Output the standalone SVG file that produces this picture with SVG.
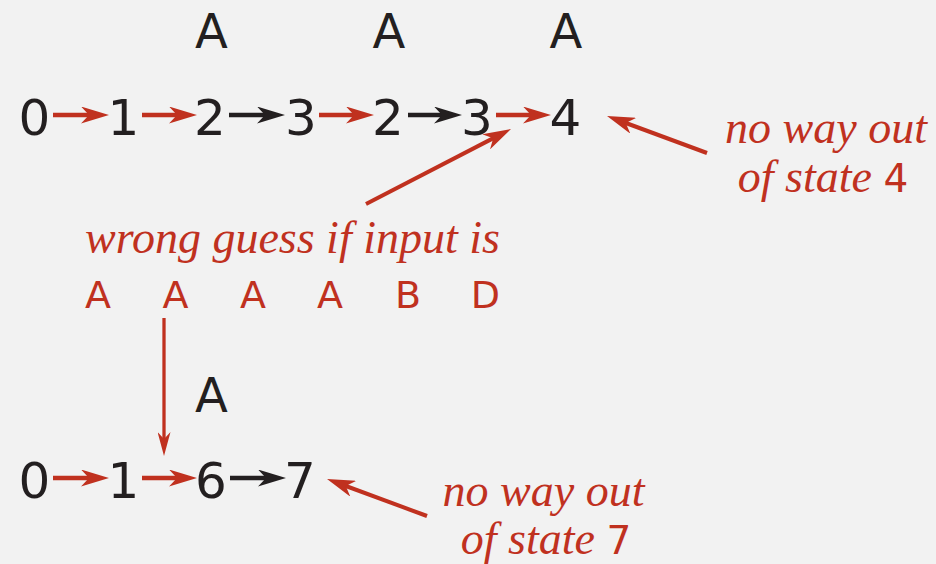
<svg xmlns="http://www.w3.org/2000/svg" width="936" height="564" viewBox="0 0 936 564">
<style>
.bg{fill:#f2f2f2}
.dig{font-family:"DejaVu Sans",sans-serif;font-size:50px;fill:#231f20;text-anchor:middle}
.lab{font-family:"DejaVu Sans",sans-serif;font-size:48px;fill:#231f20;text-anchor:middle}
.inp{font-family:"DejaVu Sans",sans-serif;font-size:38px;fill:#c0311f;text-anchor:middle}
.it{font-family:"Liberation Serif",serif;font-style:italic;font-size:46px;fill:#c0311f}
.num{font-family:"DejaVu Sans",sans-serif;font-style:normal;font-size:39px}
.r{stroke:#c0311f;stroke-width:4.5;fill:none;marker-end:url(#ar)}
.k{stroke:#231f20;stroke-width:4.5;fill:none;marker-end:url(#ak)}
.rd{stroke:#c0311f;stroke-width:4;fill:none;marker-end:url(#ar)}
.rv{stroke:#c0311f;stroke-width:3.3;fill:none;marker-end:url(#as)}
</style>
<defs>
<marker id="ar" markerUnits="userSpaceOnUse" viewBox="0 0 28 17" refX="18" refY="8.5" markerWidth="28" markerHeight="17" orient="auto"><path d="M28,8.5 L0,0 L8,8.5 L0,17 Z" fill="#c0311f"/></marker>
<marker id="ak" markerUnits="userSpaceOnUse" viewBox="0 0 28 17" refX="18" refY="8.5" markerWidth="28" markerHeight="17" orient="auto"><path d="M28,8.5 L0,0 L8,8.5 L0,17 Z" fill="#231f20"/></marker>
<marker id="as" markerUnits="userSpaceOnUse" viewBox="0 0 24 13" refX="14" refY="6.5" markerWidth="24" markerHeight="13" orient="auto"><path d="M24,6.5 L0,0 L7,6.5 L0,13 Z" fill="#c0311f"/></marker>
</defs>
<rect class="bg" x="0" y="0" width="936" height="564"/>
<g id="top-labels">
<text class="lab" x="211.5" y="48">A</text>
<text class="lab" x="389" y="48">A</text>
<text class="lab" x="566" y="48">A</text>
</g>
<g id="top-row">
<text class="dig" x="34.5" y="135">0</text>
<text class="dig" x="123.5" y="135">1</text>
<text class="dig" x="210" y="135">2</text>
<text class="dig" x="301" y="135">3</text>
<text class="dig" x="388" y="135">2</text>
<text class="dig" x="477" y="135">3</text>
<text class="dig" x="565.5" y="135">4</text>
</g>
<g id="note-4">
<text class="it" x="826" y="143" text-anchor="middle">no way out</text>
<text class="it" x="823" y="192" text-anchor="middle">of state <tspan class="num">4</tspan></text>
</g>
<g id="wrong-guess">
<text class="it" x="85" y="253">wrong guess if input is</text>
</g>
<g id="input">
<text class="inp" x="98" y="308">A</text>
<text class="inp" x="175.5" y="308">A</text>
<text class="inp" x="253" y="308">A</text>
<text class="inp" x="330" y="308">A</text>
<text class="inp" x="408" y="308">B</text>
<text class="inp" x="485.5" y="308">D</text>
</g>
<g id="bottom-label">
<text class="lab" x="211.5" y="412">A</text>
</g>
<g id="bottom-row">
<text class="dig" x="34.5" y="498">0</text>
<text class="dig" x="123.5" y="498">1</text>
<text class="dig" x="211" y="498">6</text>
<text class="dig" x="300" y="498">7</text>
</g>
<g id="note-7">
<text class="it" x="543.5" y="506" text-anchor="middle">no way out</text>
<text class="it" x="546" y="554" text-anchor="middle">of state <tspan class="num">7</tspan></text>
</g>
<g id="connectors">
<line class="r" x1="53" y1="115" x2="99" y2="115"/>
<line class="r" x1="142" y1="115" x2="187" y2="115"/>
<line class="k" x1="229" y1="115" x2="275" y2="115"/>
<line class="r" x1="319" y1="115" x2="364" y2="115"/>
<line class="k" x1="408" y1="115" x2="452" y2="115"/>
<line class="r" x1="496" y1="115" x2="541" y2="115"/>
<line class="rd" x1="366" y1="204" x2="502.1" y2="133.6"/>
<line class="rd" x1="707" y1="153" x2="616.4" y2="119.5"/>
<line class="rv" x1="164" y1="318" x2="164" y2="446"/>
<line class="r" x1="53" y1="478" x2="99" y2="478"/>
<line class="r" x1="142" y1="478" x2="187" y2="478"/>
<line class="k" x1="230" y1="478" x2="276" y2="478"/>
<line class="rd" x1="427" y1="516" x2="336.4" y2="482.5"/>
</g>
</svg>
